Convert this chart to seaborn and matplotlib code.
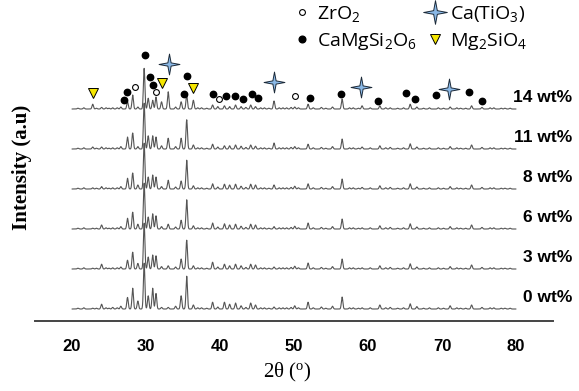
import numpy as np
import pandas as pd
import matplotlib
matplotlib.use("Agg")
import matplotlib.pyplot as plt
import seaborn as sns
from matplotlib.path import Path
from matplotlib.lines import Line2D

# sample names (bottom to top)
samples = ["0 wt%", "3 wt%", "6 wt%", "8 wt%", "11 wt%", "14 wt%"]

# peak positions (2theta, deg)
peak_pos = [22.8, 24.0, 25.5, 26.6, 27.5, 28.2, 28.9, 29.75, 30.3, 30.9, 31.35, 32.1,
            33.0, 34.0, 34.75, 35.5, 36.4, 37.5, 39.0, 39.7, 40.6, 41.3, 42.1, 42.85,
            44.15, 44.8, 46.0, 47.3, 48.5, 50.1, 51.9, 53.7, 55.2, 56.5, 57.5, 59.2,
            60.3, 61.6, 63.0, 65.7, 66.6, 68.3, 71.1, 72.5, 74.0, 75.4, 77.0, 78.5]

# peak heights per sample (same order as peak_pos)
h_0 = [0.02, 0.12, 0.04, 0.07, 0.29, 0.52, 0.20, 1.15, 0.33, 0.52, 0.39, 0.04,
       0.04, 0.07, 0.33, 0.82, 0.10, 0.03, 0.17, 0.05, 0.17, 0.12, 0.15, 0.08,
       0.15, 0.10, 0.03, 0.05, 0.03, 0.08, 0.17, 0.05, 0.07, 0.30, 0.03, 0.03,
       0.03, 0.10, 0.04, 0.13, 0.06, 0.03, 0.08, 0.02, 0.10, 0.04, 0.03, 0.02]
h_3 = [0.02, 0.12, 0.03, 0.05, 0.22, 0.42, 0.14, 1.15, 0.30, 0.35, 0.33, 0.06,
       0.08, 0.05, 0.25, 0.72, 0.08, 0.03, 0.17, 0.05, 0.12, 0.08, 0.12, 0.08,
       0.12, 0.10, 0.03, 0.05, 0.03, 0.07, 0.15, 0.04, 0.06, 0.25, 0.03, 0.03,
       0.03, 0.08, 0.04, 0.13, 0.05, 0.03, 0.06, 0.02, 0.10, 0.04, 0.03, 0.02]
h_6 = [0.02, 0.10, 0.03, 0.06, 0.27, 0.42, 0.12, 1.15, 0.30, 0.38, 0.33, 0.06,
       0.12, 0.05, 0.22, 0.73, 0.08, 0.03, 0.15, 0.05, 0.13, 0.10, 0.12, 0.07,
       0.12, 0.10, 0.03, 0.06, 0.03, 0.07, 0.15, 0.04, 0.06, 0.25, 0.03, 0.03,
       0.03, 0.08, 0.04, 0.13, 0.05, 0.03, 0.06, 0.02, 0.10, 0.04, 0.03, 0.02]
h_8 = [0.03, 0.06, 0.03, 0.06, 0.27, 0.40, 0.10, 1.15, 0.30, 0.35, 0.30, 0.06,
       0.22, 0.05, 0.20, 0.72, 0.08, 0.03, 0.13, 0.05, 0.12, 0.10, 0.12, 0.07,
       0.12, 0.10, 0.03, 0.10, 0.03, 0.07, 0.13, 0.04, 0.06, 0.25, 0.03, 0.04,
       0.03, 0.08, 0.04, 0.13, 0.05, 0.03, 0.06, 0.02, 0.10, 0.04, 0.03, 0.02]
h_11 = [0.05, 0.05, 0.03, 0.06, 0.30, 0.40, 0.06, 1.15, 0.33, 0.33, 0.30, 0.08,
        0.27, 0.06, 0.27, 0.73, 0.10, 0.03, 0.12, 0.05, 0.08, 0.08, 0.10, 0.07,
        0.10, 0.07, 0.03, 0.15, 0.03, 0.06, 0.12, 0.04, 0.06, 0.25, 0.03, 0.05,
        0.03, 0.08, 0.04, 0.13, 0.05, 0.03, 0.06, 0.02, 0.10, 0.04, 0.03, 0.02]
h_14 = [0.12, 0.04, 0.03, 0.05, 0.18, 0.35, 0.05, 1.02, 0.27, 0.22, 0.30, 0.18,
        0.43, 0.05, 0.18, 0.35, 0.22, 0.03, 0.10, 0.06, 0.08, 0.06, 0.10, 0.06,
        0.10, 0.06, 0.03, 0.20, 0.03, 0.05, 0.12, 0.04, 0.05, 0.25, 0.03, 0.08,
        0.03, 0.08, 0.03, 0.12, 0.05, 0.03, 0.05, 0.02, 0.08, 0.04, 0.03, 0.02]
heights = [h_0, h_3, h_6, h_8, h_11, h_14]

# small background bumps seen on every pattern
bump_pos = [20.8, 21.6, 23.3, 24.6, 25.0, 26.1, 37.0, 38.2, 43.5, 45.5, 46.6, 48.0,
            49.0, 49.6, 50.6, 52.6, 54.3, 58.0, 58.7, 62.4, 64.0, 64.8, 67.5, 69.5,
            70.2, 72.0, 73.2, 76.5, 78.0, 79.2]
bump_h = [0.02, 0.03, 0.02, 0.03, 0.02, 0.03, 0.03, 0.02, 0.04, 0.03, 0.02, 0.03,
          0.03, 0.04, 0.03, 0.03, 0.02, 0.03, 0.02, 0.03, 0.02, 0.03, 0.02, 0.03,
          0.02, 0.03, 0.02, 0.03, 0.02, 0.02]

# phase markers above the 14 wt% pattern: (2theta, y)
zro2_x = [28.5, 31.4, 39.8, 50.1]
zro2_y = [5.56, 5.43, 5.25, 5.33]
camgsi_x = [27.0, 27.5, 29.9, 30.6, 31.0, 35.1, 35.6, 39.1, 40.8, 42.0, 43.1, 44.3,
            45.2, 52.2, 56.4, 61.3, 65.1, 66.4, 69.2, 73.6, 75.4]
camgsi_y = [5.22, 5.43, 6.35, 5.81, 5.60, 5.37, 5.82, 5.37, 5.33, 5.32, 5.24, 5.37,
            5.27, 5.27, 5.37, 5.21, 5.41, 5.24, 5.34, 5.42, 5.21]
catio_x = [33.1, 47.3, 59.1, 71.0]
catio_y = [6.12, 5.68, 5.54, 5.49]
mg2sio4_x = [22.8, 32.2, 36.4]
mg2sio4_y = [5.41, 5.66, 5.52]

# build long-form table of the stacked patterns
tt = np.arange(20, 80.001, 0.02)
rows = []
for i, name in enumerate(samples):
    y = np.zeros_like(tt)
    for p, h in zip(peak_pos + bump_pos, heights[i] + bump_h):
        y += h * np.exp(-0.5 * ((tt - p) / 0.1) ** 2)
    rows.append(pd.DataFrame({"two_theta": tt, "intensity": y + i, "sample": name}))
df = pd.concat(rows, ignore_index=True)

sns.set_style("white")
plt.rcParams["font.family"] = ["Liberation Sans", "DejaVu Sans"]
plt.rcParams["mathtext.default"] = "regular"
plt.rcParams["text.color"] = "black"
plt.rcParams["xtick.color"] = "black"

fig = plt.figure(figsize=(5.79, 3.91), dpi=100)
ax = fig.add_axes([35 / 579, 70 / 391, 518 / 579, 321 / 391])

sns.lineplot(data=df, x="two_theta", y="intensity", hue="sample",
             palette={s: "#555555" for s in samples}, linewidth=0.8,
             estimator=None, sort=False, legend=False, ax=ax)

# star marker for Ca(TiO3)
ang = np.deg2rad(np.arange(0, 360, 45))
rad = np.array([1, 0.22] * 4)
verts = np.column_stack([rad * np.cos(ang + np.pi / 2), rad * np.sin(ang + np.pi / 2)])
star = Path(np.vstack([verts, verts[:1]]), closed=True)

ax.plot(camgsi_x, camgsi_y, "o", ms=4.6, color="black", ls="none")
ax.plot(zro2_x, zro2_y, "o", ms=4.2, mfc="white", mec="black", mew=0.8, ls="none")
ax.plot(mg2sio4_x, mg2sio4_y, "v", ms=7, mfc="#f5e600", mec="black", mew=0.7, ls="none")
ax.plot(catio_x, catio_y, marker=star, ms=15, mfc="#8ab8e6", mec="#1d2b3a", mew=0.7, ls="none")

for i, name in enumerate(samples):
    ax.text(87.6, i + 0.3, name, ha="right", va="center", fontsize=12.5,
            fontweight="bold", clip_on=False)

handles = [
    Line2D([], [], ls="none", marker="o", ms=4.2, mfc="white", mec="black", mew=0.8),
    Line2D([], [], ls="none", marker="o", ms=4.8, color="black"),
    Line2D([], [], ls="none", marker=star, ms=17, mfc="#8ab8e6", mec="#1d2b3a", mew=0.7),
    Line2D([], [], ls="none", marker="v", ms=6.5, mfc="#f5e600", mec="black", mew=0.7),
]
labels = ["ZrO$_2$", "CaMgSi$_2$O$_6$", "Ca(TiO$_3$)", "Mg$_2$SiO$_4$"]
fig.legend(handles, labels, ncol=2, frameon=False, loc="upper left",
           bbox_to_anchor=(283 / 579, 1.02), prop={"family": "Open Sans", "size": 14},
           handlelength=0.8, handletextpad=0.35, columnspacing=0.55, labelspacing=0.35,
           borderaxespad=0.2)

ax.set_xlim(15, 85)
ax.set_ylim(-0.3, 7.725)
ax.set_xticks(range(20, 81, 10))
ax.set_xticks(range(15, 86, 5), minor=True)
ax.set_yticks([])
ax.set_xlabel("")
ax.set_ylabel("")
for s in ["left", "top", "right"]:
    ax.spines[s].set_visible(False)
ax.spines["bottom"].set_color("#444444")
ax.spines["bottom"].set_linewidth(1.4)
ax.tick_params(axis="x", which="major", direction="out", length=5, width=1.2,
               color="#444444", pad=8, labelsize=12)
ax.tick_params(axis="x", which="minor", direction="out", length=3, width=1.0,
               color="#444444")
for lab in ax.get_xticklabels():
    lab.set_fontweight("bold")

fig.text(22 / 579, 1 - 167 / 391, "Intensity (a.u)", rotation=90, ha="center",
         va="center", fontsize=15, fontweight="bold", family="Liberation Serif")
fig.text(287 / 579, 1 - 372 / 391, "2θ ($^{o}$)", ha="center", va="center",
         fontsize=15, family="Liberation Serif")

fig.savefig("out.png", dpi=100)
